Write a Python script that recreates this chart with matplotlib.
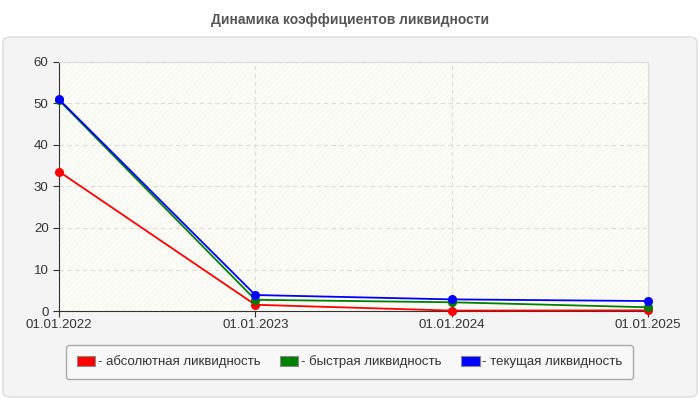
import matplotlib
matplotlib.use('Agg')
import matplotlib.pyplot as plt
from matplotlib.patches import FancyBboxPatch, Patch

plt.rcParams['font.family'] = ['Liberation Sans', 'DejaVu Sans']
plt.rcParams['hatch.linewidth'] = 0.4

dates = ['01.01.2022', '01.01.2023', '01.01.2024', '01.01.2025']
absolute = [33.6, 1.5, 0.1, 0.15]
quick = [50.8, 2.7, 2.1, 0.9]
current = [51.0, 3.85, 2.8, 2.4]

series_names = ['- абсолютная ликвидность', '- быстрая ликвидность', '- текущая ликвидность']
colors = ['#ff0000', '#008000', '#0000ff']

fig = plt.figure(figsize=(7, 4), dpi=100)
fig.patch.set_facecolor('white')

# outer grey panel
panel = FancyBboxPatch((3 / 700, 3 / 400), 694 / 700, 360 / 400,
                       boxstyle='round,pad=0,rounding_size=0.012',
                       transform=fig.transFigure, facecolor='#f4f4f4',
                       edgecolor='#dddddd', linewidth=1, zorder=-5)
fig.patches.append(panel)

fig.text(0.5, 1 - 20 / 400, 'Динамика коэффициентов ликвидности',
         ha='center', va='center', fontsize=10, fontweight='bold', color='#555555')

ax = fig.add_axes([59 / 700, 1 - 311 / 400, 589 / 700, 249 / 400])
ax.set_facecolor('#fdfdf8')
ax.patch.set_hatch('//////')
ax.patch.set_edgecolor('#f1f1ec')

x = list(range(len(dates)))
for vals, c in zip([absolute, quick, current], colors):
    ax.plot(x, vals, color=c, linewidth=1.3, marker='o', markersize=5.5,
            zorder=3, clip_on=False)

ax.set_xlim(0, len(dates) - 1)
ax.set_ylim(0, 60)
ax.set_yticks(range(0, 61, 10))
ax.set_xticks(x)
ax.set_xticklabels(dates)
ax.tick_params(labelsize=9.5, colors='#333333', length=4, width=0.8)
ax.tick_params(axis='x', pad=2)
ax.grid(True, linestyle=(0, (4, 3)), color='#dddddd', linewidth=0.8)
ax.set_axisbelow(True)
for s in ['top', 'right']:
    ax.spines[s].set_color('#dddddd')
for s in ['left', 'bottom']:
    ax.spines[s].set_color('#333333')

handles = [Patch(facecolor=c, edgecolor='#888888', linewidth=0.8) for c in colors]
leg = fig.legend(handles, series_names, loc='upper left', ncol=3, mode='expand',
                 bbox_to_anchor=(66 / 700, 1 - 383 / 400, 567 / 700, 38 / 400),
                 frameon=True, fancybox=True, fontsize=9.5, handlelength=1.4,
                 handleheight=0.8, handletextpad=0.2, borderpad=0.8,
                 borderaxespad=0)
leg.get_frame().set_facecolor('#f8f8f8')
leg.get_frame().set_edgecolor('#aaaaaa')
leg.get_frame().set_alpha(1)
for t in leg.get_texts():
    t.set_color('#333333')

fig.savefig('out.png', dpi=100)
